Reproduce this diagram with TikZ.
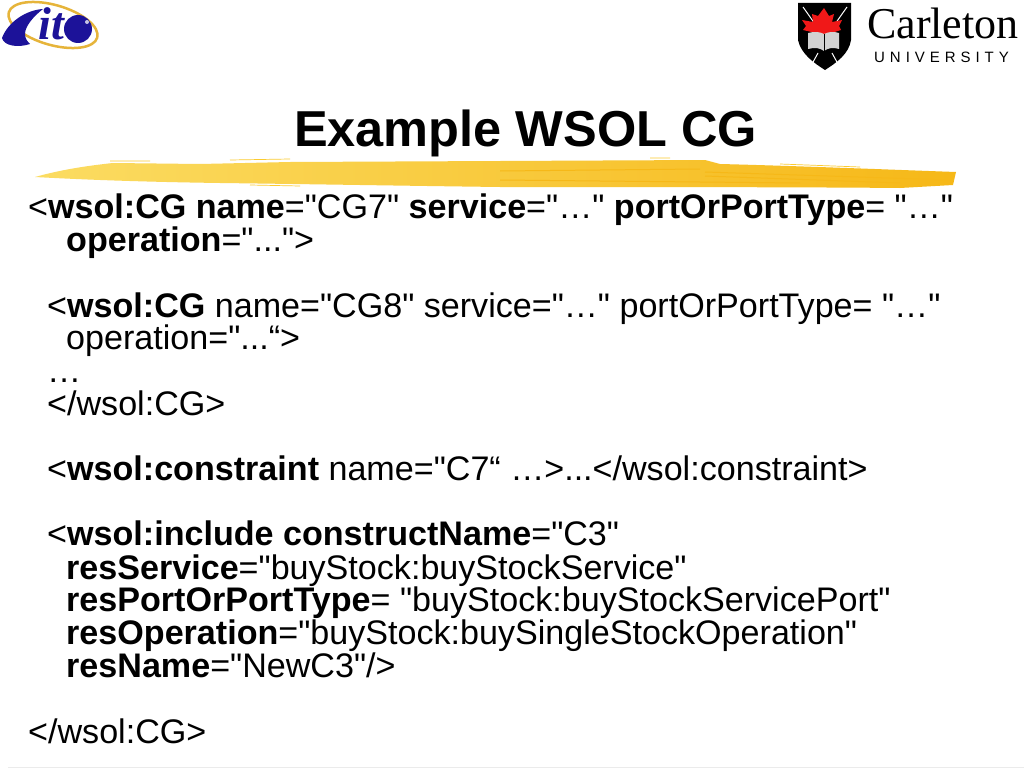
\documentclass[tikz,border=0pt]{standalone}
\usepackage{fontspec}
\setmainfont[Ligatures=TeXOff]{Liberation Sans}
\newfontfamily\logoserif{Liberation Serif}
\newfontfamily\unifont[LetterSpace=33]{Liberation Sans}
\usetikzlibrary{positioning}
\definecolor{brushlight}{HTML}{FBDC62}
\definecolor{brushyellow}{HTML}{FBCB30}
\definecolor{brushdark}{HTML}{F6B818}
\definecolor{logoblue}{HTML}{1C1299}
\definecolor{logogold}{HTML}{E6B43A}
\definecolor{carletonred}{HTML}{F01818}
\tikzset{
  codeline/.style={inner sep=0pt,anchor=base west,font=\fontsize{34.1pt}{36pt}\selectfont},
  titleline/.style={inner sep=0pt,anchor=base,font=\fontsize{50.5pt}{54pt}\selectfont\bfseries},
  streak/.style={draw=brushdark,line width=1pt},
  flick/.style={draw=brushyellow,line width=.7pt}
}
\begin{document}
\begin{tikzpicture}[x=1pt,y=-1pt]
  \useasboundingbox (0,0) rectangle (1024,768);
  \fill[white] (0,0) rectangle (1024,768);
  % brush stroke
  \shade[left color=brushlight,middle color=brushyellow,right color=brushdark]
     (35,177) .. controls (60,170) and (85,166) .. (113,163)
     -- (200,164) -- (290,162) -- (500,161) -- (705,160) -- (720,164)
     .. controls (800,166) and (900,170) .. (956,172) -- (953,185)
     -- (900,188) .. controls (800,187) and (600,187) .. (500,187)
     .. controls (420,186) and (300,184) .. (220,183)
     .. controls (150,182) and (90,180) .. (35,177) -- cycle;
  \draw[streak] (705,172) -- (950,180);
  \draw[streak] (705,176) -- (900,183);
  \draw[streak] (500,171) -- (700,169);
  \draw[streak] (500,180) -- (800,183);
  \draw[flick] (110,161) -- (150,161) (230,160) -- (290,159) (650,158) -- (670,158)
     (780,164) -- (860,167) (250,185) -- (300,186);
  % logo left
  \draw[logogold,line width=2.5pt] (53,25) ellipse [x radius=46,y radius=20,rotate=-16];
  \fill[logoblue] (2,38) .. controls (8,22) and (26,10) .. (43,9)
     .. controls (34,16) and (25,26) .. (25,34) .. controls (25,39) and (28,42) .. (30,44)
     .. controls (18,48) and (4,46) .. (2,38) -- cycle;
  \node[inner sep=0pt,anchor=base,text=logoblue,font=\fontsize{46pt}{48pt}\logoserif\bfseries\itshape] (logoit) at (51,40) {it};
  \fill[logoblue] (78,29) circle (14);
  \fill[white!75!logoblue] (87,22) circle (2);
  % logo right
  \fill[black] (798,3) -- (851,3) -- (851,40) .. controls (849,54) and (836,63) .. (825,70)
     .. controls (814,63) and (801,54) .. (798,40) -- cycle;
  \draw[white,line width=1pt] (803,7) -- (815,24) (847,7) -- (835,24)
     (812,64) -- (818,53) (838,64) -- (832,53);
  \fill[carletonred] (824,8) -- (829,16) -- (834,14) -- (832,22) -- (842,20) -- (839,26)
     -- (841,30) -- (828,34) -- (820,34) -- (803,30) -- (806,26) -- (802,20) -- (813,22)
     -- (812,14) -- (818,16) -- cycle;
  \fill[gray!35] (808,33) .. controls (815,31) and (820,32) .. (824,34)
     .. controls (828,32) and (833,31) .. (839,33) -- (839,49) .. controls (833,47) and (828,48) .. (824,51)
     .. controls (820,48) and (815,47) .. (808,49) -- cycle;
  \draw[black,line width=.5pt] (824,34) -- (824,51);
  \node[inner sep=0pt,anchor=base west,font=\fontsize{44pt}{46pt}\logoserif] (carleton) at (867,39) {Carleton};
  \node[inner sep=0pt,anchor=base west,font=\fontsize{15pt}{16pt}\unifont] (university) at (874,63) {UNIVERSITY};
  % title
  \node[titleline] (title) at (525.5,146) {Example WSOL CG};
  % text
  \node[codeline] (l1) at (28,218) {<\textbf{wsol:CG name}="CG7" \textbf{service}="…" \textbf{portOrPortType}= "…"};
  \node[codeline] (l2) at (66,251) {\textbf{operation}="...">};
  \node[codeline] (l3) at (47,317) {<\textbf{wsol:CG} name="CG8" service="…" portOrPortType= "…"};
  \node[codeline] (l4) at (66,349) {operation="...“>};
  \node[codeline] (l5) at (47,382) {…};
  \node[codeline] (l6) at (47,415) {</wsol:CG>};
  \node[codeline] (l7) at (47,480) {<\textbf{wsol:constraint} name="C7“ …>...</wsol:constraint>};
  \node[codeline] (l8) at (47,545) {<\textbf{wsol:include constructName}="C3"};
  \node[codeline] (l9) at (66,579) {\textbf{resService}="buyStock:buyStockService"};
  \node[codeline] (l10) at (66,611) {\textbf{resPortOrPortType}= "buyStock:buyStockServicePort"};
  \node[codeline] (l11) at (66,644) {\textbf{resOperation}="buyStock:buySingleStockOperation"};
  \node[codeline] (l12) at (66,677) {\textbf{resName}="NewC3"/>};
  \node[codeline] (l13) at (28,743) {</wsol:CG>};
  % footer rule
  \draw[black!8,line width=.8pt] (8,767.3) -- (1024,767.3);
\end{tikzpicture}
\end{document}
